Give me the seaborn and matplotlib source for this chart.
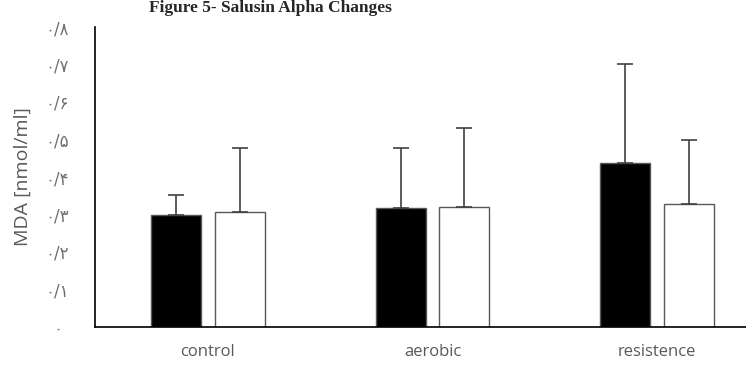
import pandas as pd
import seaborn as sns
from matplotlib import pyplot as plt

groups = ['control', 'aerobic', 'resistence']
pre_mean = [0.300, 0.318, 0.438]
post_mean = [0.308, 0.321, 0.329]
pre_err = [0.051, 0.160, 0.263]
post_err = [0.169, 0.209, 0.171]
y_ticks = [0, 0.1, 0.2, 0.3, 0.4, 0.5, 0.6, 0.7, 0.8]
y_tick_labels = ['۰', '۰/۱', '۰/۲', '۰/۳', '۰/۴', '۰/۵', '۰/۶', '۰/۷', '۰/۸']

df = pd.DataFrame({
    'group': groups * 2,
    'time': ['pre'] * 3 + ['post'] * 3,
    'mda': pre_mean + post_mean,
})

sns.set_style('white')
plt.rcParams['font.family'] = ['Open Sans', 'DejaVu Sans']

fig = plt.figure(figsize=(7.46, 3.65), dpi=100)
ax = fig.add_axes([95 / 746, 38 / 365, 652 / 746, 300 / 365])

sns.barplot(data=df, x='group', y='mda', hue='time', order=groups,
            hue_order=['pre', 'post'], palette={'pre': 'black', 'post': 'white'},
            edgecolor='#595959', linewidth=1.0, width=0.566, gap=0.21,
            errorbar=None, legend=False, ax=ax)

# upper error bars only
for cont, errs in zip(ax.containers, [pre_err, post_err]):
    for bar, e in zip(cont.patches, errs):
        xc = bar.get_x() + bar.get_width() / 2
        ax.errorbar(xc, bar.get_height(), yerr=[[0], [e]], fmt='none',
                    ecolor='#404040', elinewidth=1.2, capsize=5.5, capthick=1.2)

ax.set_xlim(-0.503, 2.4)
ax.set_ylim(0, 0.8)
ax.set_yticks(y_ticks)
ax.set_yticklabels(y_tick_labels, family=['DejaVu Sans'], fontsize=12, color='#6f6f6f')
ax.tick_params(axis='x', labelsize=12, labelcolor='#595959', length=0, pad=12)
ax.tick_params(axis='y', length=0, pad=27)
for lab in ax.get_yticklabels():
    lab.set_horizontalalignment('center')
ax.set_xlabel('')
ax.set_ylabel('MDA [nmol/ml]', fontsize=14, color='#595959')
ax.yaxis.label.set_va('center')
ax.yaxis.set_label_coords(-72 / 652, 0.5)
for s in ['top', 'right']:
    ax.spines[s].set_visible(False)
for s in ['left', 'bottom']:
    ax.spines[s].set_color('black')
    ax.spines[s].set_linewidth(1.2)

fig.text(270 / 746, 1 - 12 / 365, 'Figure 5- Salusin Alpha Changes',
         ha='center', va='baseline', fontsize=12.5, fontweight='bold',
         family='Liberation Serif')

fig.savefig('out.png', dpi=100)
